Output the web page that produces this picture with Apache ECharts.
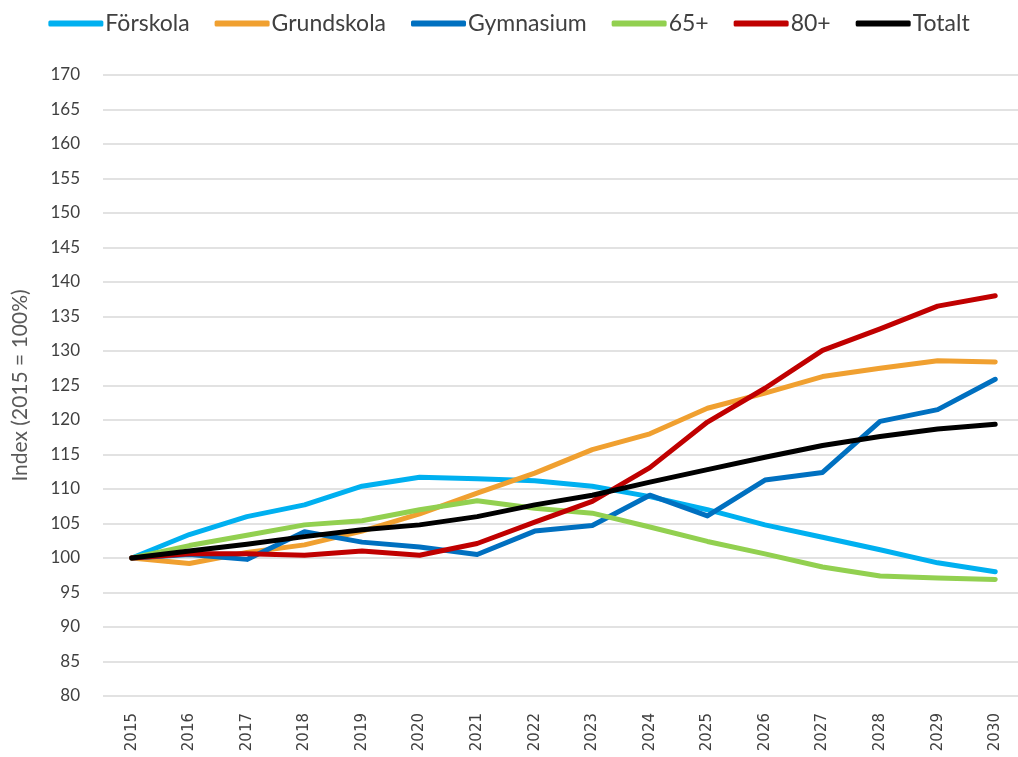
<!DOCTYPE html>
<html>
<head>
<meta charset="utf-8">
<script src="https://cdn.jsdelivr.net/npm/echarts@6/dist/echarts.min.js"></script>
<style>html,body{margin:0;padding:0;background:#fff}#c{width:1018px;height:757px}</style>
</head>
<body>
<div id="c"></div>
<script>
const years = ['2015','2016','2017','2018','2019','2020','2021','2022','2023','2024','2025','2026','2027','2028','2029','2030'];
const forskola   = [100,103.4,106.0,107.7,110.4,111.7,111.5,111.2,110.4,108.9,107.0,104.8,103.0,101.2,99.3,98.0];
const grundskola = [100,99.2,100.8,101.9,103.9,106.4,109.4,112.3,115.7,118.0,121.7,123.9,126.3,127.5,128.6,128.4];
const gymnasium  = [100,100.5,99.8,103.8,102.3,101.6,100.5,103.9,104.7,109.1,106.1,111.3,112.4,119.8,121.5,125.9];
const plus65     = [100,101.8,103.3,104.8,105.4,107.0,108.3,107.2,106.5,104.5,102.4,100.6,98.7,97.4,97.1,96.9];
const plus80     = [100,100.6,100.6,100.4,101.0,100.4,102.1,105.2,108.2,113.1,119.7,124.6,130.1,133.2,136.5,138.0];
const totalt     = [100,101.0,102.0,103.1,104.1,104.8,106.0,107.7,109.1,111.0,112.8,114.6,116.3,117.6,118.7,119.4];
const yTicks = {min:80, max:170, interval:5};

const seriesDefs = [
  ['Förskola', forskola, '#00b0f0'],
  ['Grundskola', grundskola, '#f0a030'],
  ['Gymnasium', gymnasium, '#0070c0'],
  ['65+', plus65, '#92d050'],
  ['80+', plus80, '#c00000'],
  ['Totalt', totalt, '#000000']
];

const chart = echarts.init(document.getElementById('c'), null, {renderer:'canvas'});
chart.setOption({
  animation:false,
  textStyle:{fontFamily:'Lato'},
  legend:{
    top:7, left:'center',
    itemWidth:55, itemHeight:6, itemGap:25,
    icon:'roundRect',
    textStyle:{fontSize:23, color:'#404040', fontFamily:'Lato', padding:[0,0,0,-3]},
    data: seriesDefs.map(s=>s[0])
  },
  grid:{left:103, top:75, height:621, width:921, containLabel:false, outerBoundsMode:'none'},
  xAxis:{
    type:'category', data:years, boundaryGap:true,
    axisLine:{show:false}, axisTick:{show:false},
    axisLabel:{rotate:90, fontSize:15, color:'#404040', margin:17, fontFamily:'DejaVu Sans'}
  },
  yAxis:{
    type:'value', min:yTicks.min, max:yTicks.max, interval:yTicks.interval,
    name:'Index (2015 = 100%)', nameLocation:'middle', nameGap:72, nameRotate:90,
    nameTextStyle:{fontSize:21, color:'#595959', fontFamily:'Lato'},
    axisLine:{show:false}, axisTick:{show:false},
    axisLabel:{fontSize:17, color:'#404040', margin:23, fontFamily:'Lato'},
    splitLine:{lineStyle:{color:'#d9d9d9', width:1.5}}
  },
  series: seriesDefs.map(s=>({
    name:s[0], type:'line', data:s[1], showSymbol:false, symbol:'none',
    lineStyle:{color:s[2], width:5, cap:'round', join:'round'},
    itemStyle:{color:s[2]}
  }))
});
</script>
</body>
</html>
